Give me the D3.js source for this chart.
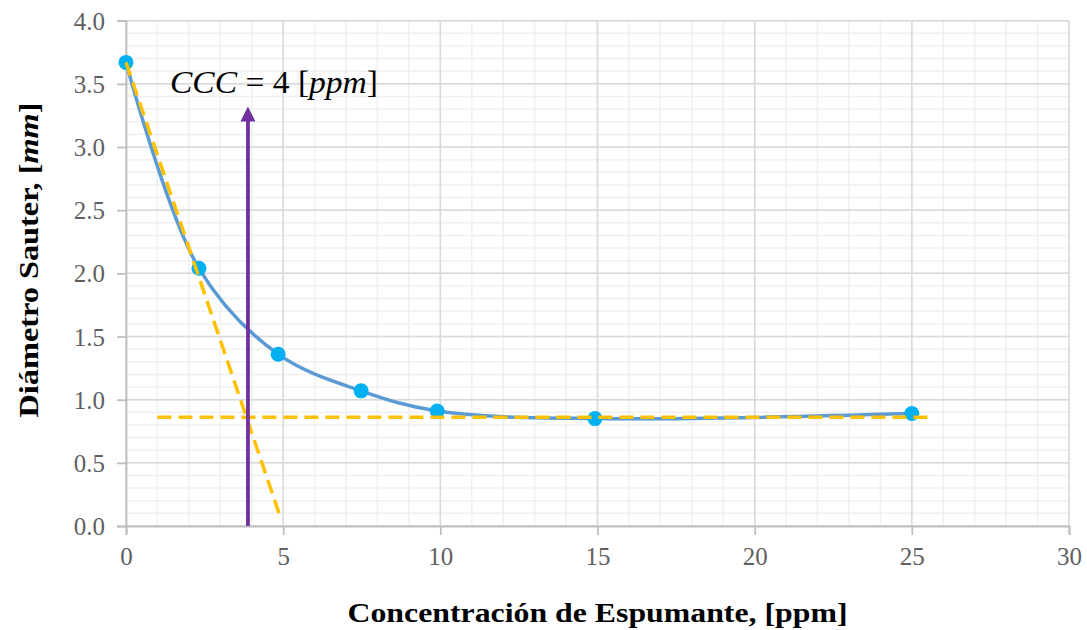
<!DOCTYPE html>
<html>
<head>
<meta charset="utf-8">
<script src="https://cdn.jsdelivr.net/npm/d3@7"></script>
<style>
  html, body { margin: 0; padding: 0; background: #fff; }
  svg { display: block; }
</style>
</head>
<body>
<svg id="chart" width="1087" height="630"></svg>
<script>
// ---- data ----
const concentrations = [0, 2.32, 4.84, 7.48, 9.9, 14.92, 25];
const sauterDiameters = [3.67, 2.04, 1.36, 1.07, 0.91, 0.85, 0.89];
const xTicks = [0, 5, 10, 15, 20, 25, 30];
const yTicks = [0, 0.5, 1.0, 1.5, 2.0, 2.5, 3.0, 3.5, 4.0];
const tangentLine = [[0, 3.67], [4.87, 0.1]];
const plateauLine = [[1.0, 0.86], [25.5, 0.86]];
const cccArrow = [[3.88, 0], [3.88, 3.32]];
const xTitle = "Concentración de Espumante, [ppm]";

// ---- layout ----
const svg = d3.select("#chart");
const x = d3.scaleLinear().domain([0, 30]).range([126, 1069]);
const y = d3.scaleLinear().domain([0, 4]).range([526, 20.7]);
const serif = "'Liberation Serif', 'DejaVu Serif', serif";

// minor grid
const g = svg.append("g");
g.selectAll("line.vminor").data(d3.range(0, 31, 1)).join("line")
  .attr("x1", d => x(d)).attr("x2", d => x(d))
  .attr("y1", y(0)).attr("y2", y(4))
  .attr("stroke", "#F0F0F0").attr("stroke-width", 1.5);
g.selectAll("line.hminor").data(d3.range(0, 41, 1).map(i => i / 10)).join("line")
  .attr("x1", x(0)).attr("x2", x(30))
  .attr("y1", d => y(d)).attr("y2", d => y(d))
  .attr("stroke", "#F0F0F0").attr("stroke-width", 1.5);
// major grid
g.selectAll("line.vmajor").data(xTicks).join("line")
  .attr("x1", d => x(d)).attr("x2", d => x(d))
  .attr("y1", y(0)).attr("y2", y(4))
  .attr("stroke", "#D9D9D9").attr("stroke-width", 1.5);
g.selectAll("line.hmajor").data(yTicks).join("line")
  .attr("x1", x(0)).attr("x2", x(30))
  .attr("y1", d => y(d)).attr("y2", d => y(d))
  .attr("stroke", "#D9D9D9").attr("stroke-width", 1.5);

// axes
const xAxis = d3.axisBottom(x).tickValues(xTicks).tickFormat(d3.format("d")).tickSize(9).tickPadding(12);
const yAxis = d3.axisLeft(y).tickValues(yTicks).tickFormat(d3.format(".1f")).tickSize(9).tickPadding(12);
const gx = svg.append("g").attr("transform", `translate(0,${y(0)})`).call(xAxis);
const gy = svg.append("g").attr("transform", `translate(${x(0)},0)`).call(yAxis);
[gx, gy].forEach(a => {
  a.attr("font-family", null).attr("font-size", null);
  a.select(".domain").attr("stroke", "#BFBFBF").attr("stroke-width", 1.8);
  a.selectAll(".tick line").attr("stroke", "#BFBFBF").attr("stroke-width", 1.8);
  a.selectAll(".tick text")
    .attr("fill", "#606060")
    .style("font-family", serif)
    .style("font-size", "25px");
});
gx.selectAll(".tick text").attr("dy", "0.71em");
gy.selectAll(".tick text").attr("dy", "0.34em");

// data line
const pts = concentrations.map((c, i) => [c, sauterDiameters[i]]);
svg.append("path").datum(pts)
  .attr("d", d3.line().x(d => x(d[0])).y(d => y(d[1])).curve(d3.curveCatmullRom.alpha(0.5)))
  .attr("fill", "none").attr("stroke", "#5B9BD5").attr("stroke-width", 3.5);
svg.selectAll("circle.pt").data(pts).join("circle")
  .attr("cx", d => x(d[0])).attr("cy", d => y(d[1])).attr("r", 7.5)
  .attr("fill", "#00B0F0");

// dashed helper lines
const ln = d3.line().x(d => x(d[0])).y(d => y(d[1]));
[tangentLine, plateauLine].forEach(l => {
  svg.append("path").datum(l).attr("d", ln)
    .attr("fill", "none").attr("stroke", "#FFC000").attr("stroke-width", 3.5)
    .attr("stroke-dasharray", "14,7");
});

// purple arrow
const ax = x(cccArrow[0][0]);
const tipY = y(cccArrow[1][1]);
svg.append("line")
  .attr("x1", ax).attr("x2", ax)
  .attr("y1", y(cccArrow[0][1])).attr("y2", tipY + 12)
  .attr("stroke", "#7030A0").attr("stroke-width", 3.8);
svg.append("path")
  .attr("d", `M${ax},${tipY} L${ax - 7.5},${tipY + 15} L${ax + 7.5},${tipY + 15} Z`)
  .attr("fill", "#7030A0");

// CCC label
svg.append("text")
  .attr("x", 170).attr("y", 93)
  .attr("textLength", 208).attr("lengthAdjust", "spacingAndGlyphs")
  .style("font-family", serif)
  .style("font-size", "31px")
  .attr("fill", "#000")
  .html('<tspan font-style="italic">CCC</tspan> = 4 [<tspan font-style="italic">ppm</tspan>]');

// axis titles
svg.append("text")
  .attr("x", (x(0) + x(30)) / 2).attr("y", 622)
  .attr("text-anchor", "middle")
  .attr("textLength", 500).attr("lengthAdjust", "spacingAndGlyphs")
  .style("font-family", serif)
  .style("font-size", "28px").style("font-weight", "bold")
  .attr("fill", "#000")
  .text(xTitle);

svg.append("text")
  .attr("transform", "translate(38,260) rotate(-90)")
  .attr("text-anchor", "middle")
  .attr("textLength", 315).attr("lengthAdjust", "spacingAndGlyphs")
  .style("font-family", serif)
  .style("font-size", "28px").style("font-weight", "bold")
  .attr("fill", "#000")
  .html('Diámetro Sauter, [<tspan font-style="italic">mm</tspan>]');
</script>
</body>
</html>
